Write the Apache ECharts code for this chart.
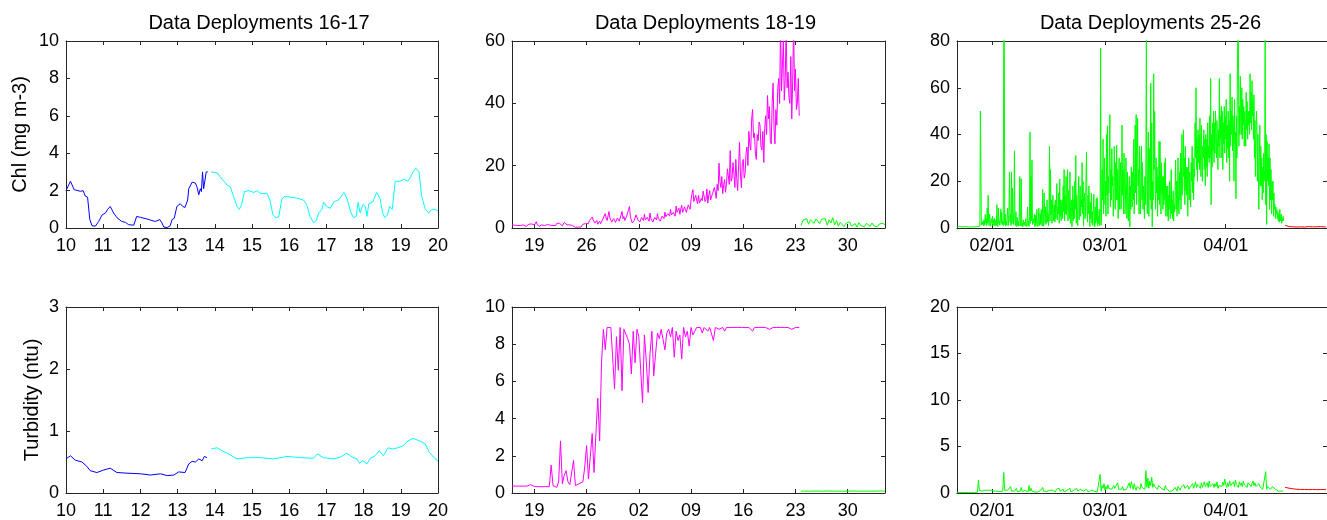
<!DOCTYPE html>
<html>
<head>
<meta charset="utf-8">
<title>Data Deployments</title>
<script src="https://cdn.jsdelivr.net/npm/echarts@6/dist/echarts.min.js"></script>
<style>
  html, body { margin: 0; padding: 0; background: #ffffff; }
  #chart { width: 1327px; height: 520px; }
</style>
</head>
<body>
<div id="chart"></div>
<script>
// ---------------- Deployments 16-17 (x = day of month) ----------------
const D16_CHL_DAYS = [10.0,10.12,10.16,10.22,10.39,10.46,10.52,10.55,10.58,10.64,10.7,10.79,10.88,10.97,11.06,11.12,11.19,11.28,11.37,11.5,11.6,11.68,11.82,11.9,12.0,12.18,12.31,12.4,12.52,12.58,12.63,12.72,12.8,12.85,12.91,12.98,13.07,13.14,13.2,13.27,13.3,13.39,13.48,13.52,13.57,13.61,13.64,13.67,13.7,13.75,13.77,13.81];
const D16_CHL = [2.0,2.5,2.45,2.05,1.96,2.0,1.7,1.65,1.65,0.45,0.12,0.1,0.35,0.7,0.8,1.0,1.15,0.8,0.55,0.35,0.3,0.18,0.15,0.62,0.57,0.48,0.4,0.35,0.45,0.27,0.05,0.02,0.12,0.45,0.52,1.15,1.3,1.15,1.1,1.5,2.1,2.45,2.4,2.2,1.78,2.1,1.95,3.0,2.1,2.2,3.0,3.0];
const D17_CHL_DAYS = [13.9,14.06,14.2,14.33,14.42,14.5,14.6,14.66,14.72,14.8,14.9,15.05,15.14,15.23,15.4,15.49,15.56,15.65,15.72,15.8,15.89,16.03,16.2,16.38,16.47,16.56,16.65,16.73,16.79,16.88,16.92,17.01,17.1,17.2,17.33,17.47,17.55,17.6,17.66,17.73,17.8,17.85,17.91,17.98,18.05,18.09,18.14,18.25,18.35,18.44,18.51,18.57,18.64,18.7,18.77,18.85,18.97,19.1,19.19,19.24,19.33,19.4,19.49,19.56,19.66,19.75,19.84,19.93,20.0];
const D17_CHL = [3.0,2.95,2.6,2.3,2.2,1.7,1.15,1.0,1.25,1.95,2.0,1.9,2.0,1.85,1.85,1.45,0.7,0.55,0.6,1.55,1.7,1.65,1.6,1.5,1.25,0.62,0.3,0.4,0.8,1.0,1.37,1.15,1.05,1.4,1.5,1.9,1.6,1.5,0.8,0.55,0.62,1.37,0.8,1.25,1.15,0.62,1.3,1.4,1.9,1.6,0.8,0.55,0.7,1.15,1.0,2.5,2.5,2.6,2.5,2.65,3.0,3.2,3.0,1.7,1.0,0.8,1.0,1.0,0.9];
const D16_TURB_DAYS = [10.0,10.12,10.25,10.43,10.56,10.65,10.83,11.01,11.19,11.37,11.64,12.0,12.27,12.54,12.72,12.9,13.03,13.2,13.3,13.39,13.48,13.57,13.66,13.72,13.79];
const D16_TURB = [0.55,0.6,0.53,0.5,0.43,0.36,0.33,0.37,0.4,0.33,0.32,0.31,0.29,0.31,0.28,0.29,0.34,0.33,0.47,0.51,0.5,0.55,0.52,0.59,0.57];
const D17_TURB_DAYS = [13.9,14.06,14.2,14.37,14.6,14.87,15.23,15.58,15.94,16.3,16.65,16.76,16.92,17.2,17.38,17.55,17.69,17.82,17.89,17.98,18.09,18.18,18.31,18.42,18.53,18.66,18.77,18.92,19.06,19.19,19.33,19.51,19.66,19.75,19.88,20.0];
const D17_TURB = [0.71,0.73,0.68,0.63,0.55,0.57,0.57,0.55,0.59,0.57,0.56,0.63,0.57,0.55,0.58,0.64,0.58,0.55,0.48,0.52,0.47,0.56,0.6,0.68,0.6,0.73,0.71,0.73,0.76,0.84,0.88,0.84,0.79,0.67,0.58,0.51];

// ---------------- Deployments 18-19 (x = day counted from 1 March) ----------------
// Deployment 18 chlorophyll: 8 samples a day from day 16
const D18_START = 16, STEP_E = 0.125;
const D18_CHL = [
  1.0,0.8,0.6,0.9,1.2,1.0,0.8,0.6,   0.4,0.8,1.1,1.3,1.0,0.7,0.9,0.5,
  0.5,0.9,1.2,0.8,0.9,1.3,1.6,1.1,   1.0,1.5,2.0,1.2,0.8,0.5,0.3,0.7,
  1.0,1.3,1.2,0.8,0.6,0.9,1.1,0.9,   1.3,0.9,0.5,0.7,0.8,1.2,1.1,0.8,
  1.5,1.9,2.1,1.5,1.2,0.9,0.7,1.2,   1.8,1.6,1.4,1.0,0.6,0.8,1.0,1.2,
  1.3,0.8,0.4,0.3,0.2,0.4,0.5,0.3,   0.1,0.2,0.3,0.8,1.2,0.9,0.6,1.4,
  2.0,1.4,1.4,2.4,2.8,2.0,3.5,2.6,   2.6,1.6,1.7,2.4,1.2,1.8,2.2,1.4,
  1.5,2.6,3.0,2.2,4.6,3.2,2.4,1.8,   5.3,3.2,3.0,1.9,2.1,3.0,2.8,1.8,
  2.0,3.2,3.4,2.2,2.2,4.2,5.3,3.0,   3.7,2.4,2.5,3.8,4.0,6.0,6.9,3.5,
  3.2,1.6,1.1,2.4,2.4,4.2,4.5,2.6,   3.1,1.9,2.0,3.4,3.6,2.4,4.4,2.6,
  2.2,3.4,3.3,2.2,4.8,3.0,2.6,1.9,   1.8,3.4,3.9,2.6,4.6,3.0,3.0,2.2,
  2.4,3.8,4.2,3.0,5.1,3.6,3.5,4.6,   4.8,3.8,6.0,4.2,3.6,5.0,4.9,3.8,
  7.0,5.0,5.2,6.4,4.4,6.2,7.3,5.0,   5.0,6.8,6.5,5.0,5.6,7.4,7.8,6.0,
  9.0,11.0,12.3,8.5,8.6,10.5,9.0,7.8, 10.5,8.0,7.4,9.5,8.8,11.8,11.4,8.5,
  9.2,12.5,8.0,10.5,12.0,9.0,9.6,11.0, 10.8,13.0,11.5,9.5,14.0,12.0,20.8,15.0,
  13.0,16.5,11.0,14.0,15.5,11.5,14.2,19.0, 18.5,14.0,24.8,15.0,16.0,21.0,17.6,13.0,
  22.0,16.0,12.0,20.0,27.5,17.0,12.9,21.0, 22.0,16.0,17.6,24.0,26.0,20.0,31.0,27.0,
  25.0,35.0,38.0,29.0,30.4,24.0,22.0,30.0, 28.0,34.0,33.0,26.0,25.0,31.0,21.0,32.0,
  36.0,30.0,42.5,35.0,39.0,28.0,27.0,40.0, 46.5,32.0,27.0,38.0,33.0,45.0,48.0,40.0,
  66.0,44.0,52.0,60.0,41.0,48.0,64.0,45.0, 50.0,42.0,40.0,55.0,35.0,47.0,65.0,44.0,
  51.0,38.0,40.0,48.0,36.0
];
// Deployment 19 chlorophyll and both turbidity records: 4 samples a day
const D19_START = 54.75, STEP_Q = 0.25;
const D19_CHL = [
  0.8, 2.5,2.0,3.0,1.2, 2.6,3.2,1.5,2.9, 3.1,1.4,2.8,2.2, 3.0,0.9,2.6,1.6,
  3.3,1.0,2.4,0.6, 1.8,1.2,0.4,1.5, 0.9,2.0,0.6,0.5, 1.4,0.3,1.7,0.8,
  1.1,0.4,1.5,0.9, 0.5,1.6,0.7,1.2, 0.4,1.3,0.8,1.5, 1.0
];
const D18_TURB = [
  0.38,0.38,0.37,0.38, 0.37,0.38,0.37,0.37, 0.37,0.38,0.45,0.36, 0.35,0.34,0.34,0.34,
  0.34,0.34,0.34,0.35, 0.34,1.5,0.4,0.32, 0.3,0.6,2.8,0.5, 0.95,1.2,0.6,0.45,
  0.4,1.75,0.4,0.45, 0.5,0.45,0.6,1.4, 2.55,0.75,0.68,3.2, 1.1,3.2,5.1,2.8,
  7.0,8.8,7.7,8.9, 8.9,8.9,8.9,5.6, 8.4,6.6,8.9,5.5, 8.8,8.9,8.3,8.0,
  6.4,8.7,7.0,8.8, 8.4,6.6,4.85,8.5, 7.1,5.4,7.5,8.7, 6.3,7.5,8.6,8.3,
  8.8,8.85,7.7,8.6, 8.8,8.4,8.9,7.3, 8.7,8.2,8.5,7.2, 8.9,8.4,8.7,7.9,
  8.9,8.5,8.7,8.9, 8.8,8.9,8.6,8.9, 8.9,8.7,8.9,8.9, 8.2,8.9,8.9,8.8,
  8.9,8.9,8.7,8.9, 8.9,8.9,8.9,8.9, 8.9,8.9,8.9,8.9, 8.9,8.9,8.9,8.9,
  8.9,8.7,8.9,8.9, 8.9,8.9,8.9,8.9, 8.9,8.9,8.8,8.9, 8.9,8.9,8.9,8.9,
  8.9,8.9,8.9,8.9, 8.9,8.9,8.8,8.9, 8.9,8.9,8.9
];
const D19_TURB = [
  0.1, 0.1,0.1,0.11,0.1, 0.1,0.1,0.1,0.11, 0.1,0.1,0.1,0.1, 0.1,0.11,0.1,0.1,
  0.1,0.1,0.1,0.1, 0.11,0.1,0.1,0.1, 0.1,0.1,0.1,0.11, 0.1,0.1,0.1,0.1,
  0.1,0.1,0.11,0.1, 0.1,0.1,0.1,0.1, 0.1,0.11,0.1,0.1, 0.1
];
// Week ticks (day counted from 1 March) and their day-of-month labels
const WEEK_TICKS = [19, 26, 33, 40, 47, 54, 61];
const WEEK_LABELS = ['19', '26', '02', '09', '16', '23', '30'];

// ---------------- Deployments 25-26 (x = day of year) ----------------
// Deployment 25 chlorophyll: 8 samples a day from day 23
const D25_START = 23;
const D25_CHL = [
  0.5,0.4,0.6,0.5,0.4,0.5,0.6,0.5,   0.4,0.5,0.6,0.4,0.5,0.4,0.5,0.6,
  0.5,0.3,0.6,0.5,0.4,0.5,0.4,0.5,   0.4,0.5,0.4,0.6,0.5,0.4,0.5,0.4,
  0.5,0.4,0.5,0.6,0.5,0.4,0.6,0.5,   0.5,0.7,0.6,0.8,1.0,0.7,0.9,0.8,
  50,30,1.2,0.8,2.5,1.5,3.2,0.9,     3.5,1.2,5.8,2.0,4.0,1.0,8.5,2.0,
  14.0,2.5,1.0,6.0,3.5,0.8,1.5,4.0,  2.2,5.1,1.0,3.5,1.2,4.2,0.8,2.0,
  3.5,1.0,10.0,1.5,0.6,8.5,2.0,3.0,  1.2,4.0,8.0,2.0,6.6,1.5,3.0,1.0,
  95,90,1.5,6.0,0.8,3.0,1.2,5.0,     8.5,1.0,3.0,10.0,24.0,2.5,6.0,1.0,
  24.0,2.0,17.0,5.0,1.5,8.0,33.0,3.0, 1.0,7.0,2.5,0.6,4.5,1.0,3.0,0.8,
  6.0,22.0,1.0,3.5,21.0,0.8,2.0,0.5, 3.5,1.2,0.6,2.5,0.8,4.0,1.5,0.6,
  2.5,9.0,1.0,3.0,0.7,5.0,41.0,2.0,  22.0,3.0,29.0,1.5,0.8,4.0,2.0,6.0,
  0.5,5.5,1.0,3.0,8.0,1.5,0.6,2.5,   8.5,1.0,3.0,6.0,1.5,8.0,2.0,0.8,
  16.5,4.5,0.8,15.0,6.0,2.0,9.0,1.5, 4.0,12.0,2.5,6.0,1.0,8.0,35.0,3.0,
  25.0,5.5,12.0,2.0,8.0,14.0,3.0,6.0, 10.0,2.5,12.0,4.0,8.0,19.0,3.5,9.0,
  6.0,15.0,2.0,21.0,5.0,12.0,3.0,9.5, 12.0,4.0,18.0,7.0,25.0,3.0,14.0,6.0,
  22.0,5.5,10.0,25.0,3.0,16.0,8.0,4.0, 24.0,2.0,8.5,12.0,0.5,6.0,18.0,3.0,
  12.0,4.0,20.0,8.0,31.0,2.0,14.0,6.0, 1.0,14.0,22.0,3.5,9.0,18.0,5.0,12.0,
  9.0,28.0,6.0,20.0,0.8,12.0,15.0,4.0, 5.0,22.0,32.5,8.0,2.5,14.0,6.0,18.0,
  8.0,0.6,11.0,4.0,15.0,2.0,7.0,1.0,  1.5,14.5,6.0,0.5,9.0,2.0,12.5,3.0,
  13.0,0.8,5.0,2.0,8.0,1.0,4.0,77.0,  1.2,8.0,25.0,12.0,38.0,6.0,18.0,30.0,
  10.0,20.0,5.0,40.0,14.0,43.7,6.0,22.0, 15.0,30.0,48.5,9.0,25.0,12.0,34.0,18.0,
  22.0,5.0,13.0,35.0,20.0,8.0,28.0,12.0, 35.5,12.0,25.0,4.0,16.0,30.0,8.0,22.0,
  28.0,8.0,18.0,44.0,14.0,25.0,6.0,32.0, 20.0,6.0,11.0,30.0,19.0,4.0,24.0,10.0,
  3.0,15.0,22.0,0.5,18.0,8.0,26.0,12.0,  9.0,24.0,12.0,38.0,6.0,20.0,44.0,15.0,
  48.5,10.0,30.0,47.0,18.0,25.0,6.0,35.0, 25.0,6.0,20.0,35.0,12.0,28.0,8.0,18.0,
  12.0,4.0,22.0,10.0,30.0,88.0,14.0,6.0, 30.0,41.0,5.0,24.0,34.0,12.0,62.0,8.0,
  45.0,0.5,20.0,12.0,66.0,25.0,50.0,15.0, 8.0,30.0,15.0,26.0,5.0,22.0,12.0,37.0,
  10.0,37.0,18.0,6.0,28.0,14.0,22.0,8.0, 22.0,10.0,28.0,12.0,30.0,5.0,18.0,9.0,
  5.0,18.0,3.0,14.0,8.0,20.0,4.0,12.0,  25.0,6.0,12.0,4.0,16.0,3.0,10.0,7.0,
  16.0,29.0,8.0,20.0,5.0,14.0,30.0,10.0, 6.0,24.0,12.0,32.0,8.0,18.0,40.0,14.0,
  18.0,42.0,22.0,30.0,10.0,35.0,16.0,26.0, 14.0,26.0,5.0,18.0,30.0,12.0,24.0,15.0,
  9.0,28.0,20.0,35.0,15.0,30.0,12.0,25.0, 22.0,45.0,30.0,60.0,25.0,38.0,20.0,42.0,
  28.0,40.0,25.0,47.0,32.0,22.0,44.0,30.0, 20.0,35.0,30.0,42.0,25.0,38.0,18.0,40.0,
  26.0,38.0,22.0,45.0,30.0,35.0,28.0,48.0, 30.0,64.0,10.0,40.0,26.0,45.0,33.0,50.0,
  28.0,45.0,32.0,50.0,38.5,30.0,46.0,35.0, 25.0,42.0,35.0,64.0,30.0,48.0,38.0,52.0,
  30.0,50.0,25.0,45.0,36.0,52.0,32.0,48.0, 38.0,55.0,28.0,44.0,34.0,50.0,30.0,46.0,
  20.0,66.0,35.0,50.0,40.0,56.0,33.0,48.0, 42.0,20.0,55.0,36.0,41.0,12.5,48.0,30.0,
  67.0,90.0,88.0,35.0,52.0,40.0,65.0,45.0, 40.0,60.0,38.0,55.0,44.0,52.0,35.0,50.0,
  45.0,35.0,58.0,42.0,54.0,38.0,50.0,44.0, 50.0,40.0,66.0,45.0,58.0,42.0,63.0,48.0,
  55.0,38.0,57.0,30.0,46.0,22.0,38.0,50.0, 45.0,20.0,40.0,25.0,8.0,30.0,44.0,18.0,
  35.0,18.0,30.0,12.0,26.0,15.0,32.0,20.0, 25.0,85.0,10.0,40.0,1.5,37.0,20.0,30.0,
  18.0,36.0,8.0,30.0,12.0,25.0,6.0,20.0,  12.0,20.0,5.0,15.0,8.0,10.0,4.0,9.0,
  6.0,8.0,4.0,7.0,3.0,6.0,2.5,8.0,      5.0,3.0,6.0,2.0,4.0,3.0,5.0,3.0
];
// Deployment 25 turbidity: 4 samples a day from day 23
const D25_TURB = [
  0.05,0.05,0.05,0.05, 0.05,0.05,0.05,0.05, 0.05,0.05,0.05,0.05, 0.05,0.05,0.05,0.05, 0.05,0.05,0.05,0.05,
  0.05,0.1,1.4,0.3, 0.3,0.25,0.2,0.3, 0.2,0.3,0.25,0.2, 0.3,0.2,0.15,0.3, 0.2,0.35,0.2,0.15,
  0.3,0.2,0.25,0.2, 0.15,0.2,0.3,0.2, 2.2,0.3,0.2,0.25, 0.3,0.5,0.2,0.7, 0.2,0.3,0.15,0.2,
  0.2,0.5,0.15,0.2, 0.3,0.2,0.6,0.15, 0.2,0.15,0.3,0.1, 0.2,0.1,0.8,0.2, 0.5,0.2,0.1,0.2,
  0.1,0.2,0.15,0.1, 0.2,0.1,0.3,0.15, 0.6,0.2,0.1,0.3, 0.15,0.2,0.1,0.3, 0.4,0.2,0.3,0.2,
  0.3,0.1,0.4,0.2, 0.3,0.5,0.2,0.3, 0.2,0.4,0.1,0.3, 0.2,0.3,0.4,0.2, 0.5,0.1,0.3,0.2,
  0.3,0.4,0.2,0.5, 0.2,0.3,0.1,0.4, 0.3,0.5,0.2,0.1, 0.2,0.4,0.3,0.1, 0.2,0.1,0.3,0.1,
  0.1,0.2,0.1,0.15, 0.1,0.2,0.1,2.0, 0.2,0.8,0.5,1.0, 0.3,0.7,0.4,0.9, 0.5,0.3,0.6,0.4,
  0.3,0.8,0.5,0.4, 0.6,1.1,0.4,0.5, 0.3,0.4,0.7,0.3, 0.5,0.2,0.4,0.3, 0.6,1.1,0.5,1.2,
  0.8,0.4,1.0,0.6, 0.3,0.7,0.5,0.9, 0.4,1.0,0.6,0.5, 0.8,0.4,2.4,0.6, 1.6,0.5,1.3,0.8,
  1.7,0.6,1.0,0.7, 0.5,0.9,0.4,0.8, 0.6,1.0,0.5,0.7, 0.4,0.3,0.8,0.5, 0.3,0.5,0.2,0.4,
  0.3,0.2,0.4,0.3, 0.6,0.4,0.2,0.7, 0.5,0.3,0.6,0.8, 0.4,0.9,0.5,0.6, 0.3,0.8,0.4,0.5,
  0.7,0.6,1.0,0.5, 0.8,1.2,0.6,0.9, 0.7,1.0,0.5,1.1, 0.6,0.9,1.2,0.7, 0.8,1.1,0.6,1.3,
  0.7,0.9,0.5,1.0, 0.6,1.0,0.7,1.2, 0.5,0.8,0.6,1.0, 0.7,1.2,0.8,1.5, 0.9,0.6,1.1,0.7,
  1.3,0.8,1.0,0.6, 1.2,0.7,1.4,0.9, 1.0,0.6,1.2,0.8, 1.1,0.7,1.3,0.9, 0.8,1.0,0.6,1.1,
  0.9,1.2,0.7,1.0, 1.3,0.8,1.1,0.7, 0.9,0.6,1.0,0.7, 0.5,0.8,0.4,0.6, 0.5,2.3,0.4,0.7,
  0.5,0.8,0.4,0.6, 0.7,0.5,0.6,0.4, 0.3,0.25,0.2,0.2, 0.2,0.2,0.15,0.2
];
// Deployment 26: two samples a day
const D26_START = 107.25, STEP_H = 0.5;
const D26_CHL = [1.2,0.9,0.6,0.8,0.5,0.7,0.4,0.6,0.5,0.7,0.4,0.5,0.6,0.4,0.5,0.3,0.5,0.4,0.6,0.3,0.5,0.4];
const D26_TURB = [0.6,0.58,0.52,0.48,0.45,0.42,0.4,0.38,0.38,0.37,0.38,0.37,0.36,0.37,0.38,0.37,0.36,0.37,0.37,0.36,0.37,0.36];
// Month ticks (day of year, leap year) and labels
const MONTH_TICKS = [32, 61, 92];
const MONTH_LABELS = ['02/01', '03/01', '04/01'];

const TITLES = ['Data Deployments 16-17', 'Data Deployments 18-19', 'Data Deployments 25-26'];
const Y_NAMES = ['Chl (mg m-3)', 'Turbidity (ntu)'];

// ---------------- helpers ----------------
function pairs(days, vals) { return vals.map((v, i) => [days[i], v]); }
function sampled(start, step, vals) { return vals.map((v, i) => [start + i * step, v]); }

const FONT = '"Liberation Sans", Arial, Helvetica, sans-serif';
const INK = '#000000';
const FRAME = '#262626';

const PANEL_LEFT = [66, 512, 957];
const PANEL_WIDTH = [372, 373, 373];
const ROW_TOP = [41, 307];
const PANEL_HEIGHT = 187;

const grids = [];
for (let r = 0; r < 2; r++) {
  for (let c = 0; c < 3; c++) {
    grids.push({ left: PANEL_LEFT[c], top: ROW_TOP[r], width: PANEL_WIDTH[c], height: PANEL_HEIGHT, containLabel: false });
  }
}

const X_SPECS = [
  { min: 10, max: 20, interval: 1 },
  { min: 16, max: 66, ticks: WEEK_TICKS, labels: WEEK_LABELS },
  { min: 23, max: 118, ticks: MONTH_TICKS, labels: MONTH_LABELS }
];
const Y_SPECS = [
  [{ min: 0, max: 10, interval: 2 }, { min: 0, max: 60, interval: 20 }, { min: 0, max: 80, interval: 20 }],
  [{ min: 0, max: 3, interval: 1 }, { min: 0, max: 10, interval: 2 }, { min: 0, max: 20, interval: 5 }]
];

const xAxes = [], yAxes = [];
for (let g = 0; g < 6; g++) {
  const c = g % 3, r = Math.floor(g / 3);
  const xs = X_SPECS[c];
  ['bottom', 'top'].forEach(pos => {
    const ax = {
      type: 'value', gridIndex: g, position: pos, min: xs.min, max: xs.max,
      axisLine: { show: true, onZero: false, lineStyle: { color: FRAME, width: 1 } },
      axisTick: { show: true, inside: true, length: 4, lineStyle: { color: FRAME } },
      splitLine: { show: false },
      axisLabel: { show: pos === 'bottom', color: INK, fontFamily: FONT, fontSize: 18, margin: 9 }
    };
    if (xs.interval) {
      ax.interval = xs.interval;
    } else {
      ax.axisTick.customValues = xs.ticks;
      ax.axisLabel.customValues = xs.ticks;
      ax.axisLabel.formatter = v => xs.labels[xs.ticks.indexOf(v)];
    }
    xAxes.push(ax);
  });
  const ys = Y_SPECS[r][c];
  ['left', 'right'].forEach(pos => {
    const ay = {
      type: 'value', gridIndex: g, position: pos, min: ys.min, max: ys.max, interval: ys.interval,
      axisLine: { show: true, onZero: false, lineStyle: { color: FRAME, width: 1 } },
      axisTick: { show: true, inside: true, length: 4, lineStyle: { color: FRAME } },
      splitLine: { show: false },
      axisLabel: { show: pos === 'left', color: INK, fontFamily: FONT, fontSize: 18, margin: 7 }
    };
    if (pos === 'left' && c === 0) {
      ay.name = Y_NAMES[r];
      ay.nameLocation = 'middle';
      ay.nameGap = r === 0 ? 36 : 24;
      ay.nameTextStyle = { color: INK, fontFamily: FONT, fontSize: 20 };
    }
    yAxes.push(ay);
  });
}

function line(g, data, color) {
  return {
    type: 'line', xAxisIndex: g * 2, yAxisIndex: g * 2, data: data,
    showSymbol: false, symbol: 'none', clip: true, silent: true,
    lineStyle: { color: color, width: 1 }, itemStyle: { color: color },
    animation: false
  };
}

const series = [
  line(0, pairs(D16_CHL_DAYS, D16_CHL), '#0000ff'),
  line(0, pairs(D17_CHL_DAYS, D17_CHL), '#00ffff'),
  line(1, sampled(D18_START, STEP_E, D18_CHL), '#ff00ff'),
  line(1, sampled(D19_START, STEP_Q, D19_CHL), '#00ff00'),
  line(2, sampled(D25_START, STEP_E, D25_CHL), '#00ff00'),
  line(2, sampled(D26_START, STEP_H, D26_CHL), '#ff0000'),
  line(3, pairs(D16_TURB_DAYS, D16_TURB), '#0000ff'),
  line(3, pairs(D17_TURB_DAYS, D17_TURB), '#00ffff'),
  line(4, sampled(D18_START, STEP_Q, D18_TURB), '#ff00ff'),
  line(4, sampled(D19_START, STEP_Q, D19_TURB), '#00ff00'),
  line(5, sampled(D25_START, STEP_Q, D25_TURB), '#00ff00'),
  line(5, sampled(D26_START, STEP_H, D26_TURB), '#ff0000')
];

const titles = TITLES.map((t, c) => ({
  text: t, left: PANEL_LEFT[c] + PANEL_WIDTH[c] / 2 + 2, top: 8, textAlign: 'center',
  textStyle: { color: INK, fontFamily: FONT, fontSize: 20, fontWeight: 'normal' }
}));

const chart = echarts.init(document.getElementById('chart'), null, { renderer: 'canvas' });
chart.setOption({
  backgroundColor: '#ffffff',
  animation: false,
  title: titles,
  grid: grids,
  xAxis: xAxes,
  yAxis: yAxes,
  series: series
});
</script>
</body>
</html>
